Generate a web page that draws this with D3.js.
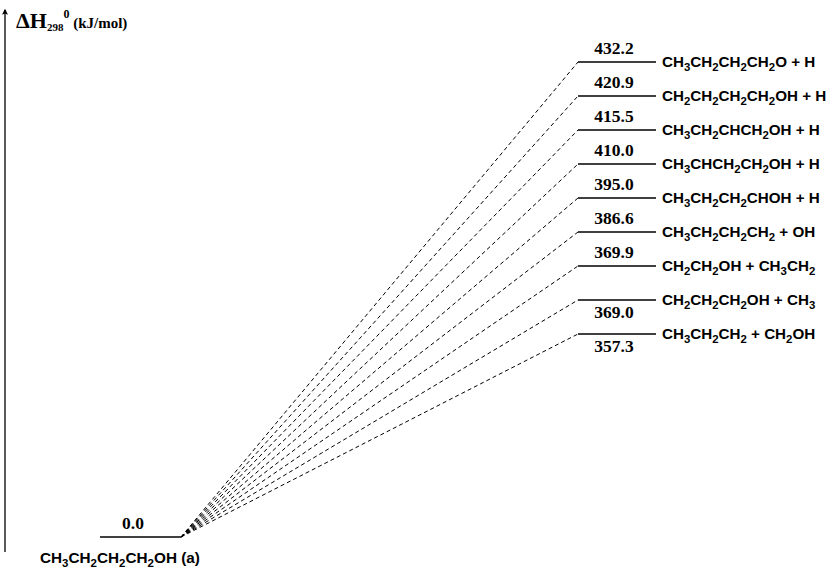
<!DOCTYPE html>
<html>
<head>
<meta charset="utf-8">
<script src="https://cdn.jsdelivr.net/npm/d3@7/dist/d3.min.js"></script>
<style>
  html, body { margin: 0; padding: 0; background: #fff; }
  svg { display: block; }
</style>
</head>
<body>
<svg id="chart" width="829" height="569"></svg>
<script>
// ---- data ----
const reactant = "CH3CH2CH2CH2OH (a)";
const reactantValue = 0.0;
const products = [
  "CH3CH2CH2CH2O + H",
  "CH2CH2CH2CH2OH + H",
  "CH3CH2CHCH2OH + H",
  "CH3CHCH2CH2OH + H",
  "CH3CH2CH2CHOH + H",
  "CH3CH2CH2CH2 + OH",
  "CH2CH2OH + CH3CH2",
  "CH2CH2CH2OH + CH3",
  "CH3CH2CH2 + CH2OH"
];
const enthalpies = [432.2, 420.9, 415.5, 410.0, 395.0, 386.6, 369.9, 369.0, 357.3];

// ---- layout ----
const svg = d3.select("#chart");
const halfW = 39;

const x = d3.scalePoint().domain(["reactant", "product"]).range([140, 617]);
// schematic (non-proportional) ordering of product levels
const yP = d3.scalePoint().domain(products).range([62, 334]);
// lower part of the broken axis for the reactant
const yLow = d3.scaleLinear().domain([reactantValue, d3.min(enthalpies)])
  .range([537, yP(products[products.length - 1])]);

const serif = "'Liberation Serif', 'Times New Roman', serif";
const sans = "'Liberation Sans', Arial, sans-serif";

// helper: formula with subscripts
function formula(sel, str, size) {
  const parts = str.split(/(\d+)/);
  let prevSub = false;
  parts.forEach((p, i) => {
    if (p === "") return;
    const isNum = /^\d+$/.test(p) && i > 0 && /[A-Za-z]$/.test(parts[i - 1]);
    const t = sel.append("tspan").text(p);
    if (isNum) {
      t.attr("font-size", size * 0.75).attr("dy", size * 0.28);
      prevSub = true;
    } else if (prevSub) {
      t.attr("dy", -size * 0.28);
      prevSub = false;
    }
  });
}

// axis arrow
svg.append("defs").append("marker")
  .attr("id", "arrow").attr("viewBox", "0 0 10 10")
  .attr("refX", 5).attr("refY", 2)
  .attr("markerWidth", 6).attr("markerHeight", 10)
  .attr("markerUnits", "userSpaceOnUse")
  .attr("orient", "0")
  .append("path").attr("d", "M0,10 L5,0 L10,10 L5,8 Z").attr("fill", "#000");

const axis = d3.axisLeft(d3.scaleLinear().range([552, 8])).ticks(0).tickSize(0).tickFormat("");
const ag = svg.append("g").attr("transform", "translate(5,0)").call(axis);
ag.select(".domain").attr("stroke", "#000").attr("stroke-width", 1.3).attr("d", "M0,552V10")
  .attr("marker-end", "url(#arrow)");

// axis title
const title = svg.append("text").attr("x", 16).attr("y", 28)
  .attr("font-family", serif).attr("font-weight", "bold").attr("fill", "#000");
title.append("tspan").attr("font-size", 22).text("\u0394H");
title.append("tspan").attr("font-size", 11).attr("dy", 3).text("298");
title.append("tspan").attr("font-size", 12).attr("dy", -13).text("0");
title.append("tspan").attr("font-size", 15).attr("dy", 10).text(" (kJ/mol)");

// connector dashed lines
const g = svg.append("g");
g.selectAll("line.conn").data(products).join("line")
  .attr("class", "conn")
  .attr("x1", x("reactant") + halfW + 2).attr("y1", yLow(reactantValue))
  .attr("x2", x("product") - halfW).attr("y2", d => yP(d))
  .attr("stroke", "#000").attr("stroke-width", 1).attr("stroke-dasharray", "4,3");

// reactant level
g.append("line")
  .attr("x1", x("reactant") - halfW - 1).attr("x2", x("reactant") + halfW + 2)
  .attr("y1", yLow(reactantValue)).attr("y2", yLow(reactantValue))
  .attr("stroke", "#000").attr("stroke-width", 1.5);
g.append("text").attr("x", x("reactant") - 7).attr("y", yLow(reactantValue) - 8)
  .attr("text-anchor", "middle").attr("font-family", serif).attr("font-weight", "bold")
  .attr("font-size", 17.5).text(reactantValue.toFixed(1));
const rl = g.append("text").attr("x", 40).attr("y", yLow(reactantValue) + 26)
  .attr("font-family", sans).attr("font-weight", "bold").attr("font-size", 15.3);
formula(rl, reactant, 15.3);

// product levels
g.selectAll("line.lvl").data(products).join("line")
  .attr("class", "lvl")
  .attr("x1", x("product") - halfW).attr("x2", x("product") + halfW)
  .attr("y1", d => yP(d)).attr("y2", d => yP(d))
  .attr("stroke", "#000").attr("stroke-width", 1.5);

const n = products.length;
g.selectAll("text.val").data(products).join("text")
  .attr("class", "val")
  .attr("x", x("product") - 3)
  .attr("y", (d, i) => i >= n - 2 ? yP(d) + 18 : yP(d) - 8)
  .attr("text-anchor", "middle").attr("font-family", serif).attr("font-weight", "bold")
  .attr("font-size", 17.5)
  .text((d, i) => enthalpies[i].toFixed(1));

g.selectAll("text.name").data(products).join("text")
  .attr("class", "name")
  .attr("x", x("product") + halfW + 6)
  .attr("y", d => yP(d) + 5)
  .attr("font-family", sans).attr("font-weight", "bold").attr("font-size", 15.2)
  .each(function(d) { formula(d3.select(this), d, 15.2); });
</script>
</body>
</html>
